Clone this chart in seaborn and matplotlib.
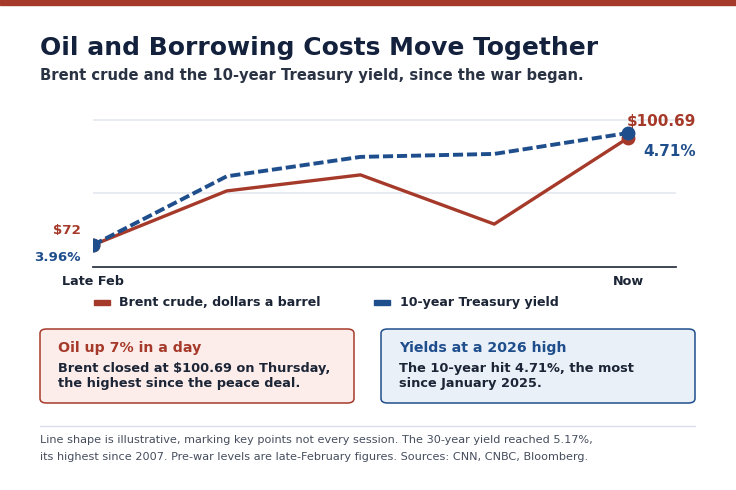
import numpy as np
import pandas as pd
import seaborn as sns
import matplotlib.pyplot as plt
from matplotlib.patches import FancyBboxPatch, Rectangle

# data (line shape is illustrative)
steps = [0, 1, 2, 3, 4]
tick_labels = ["Late Feb", "", "", "", "Now"]
brent = [72.0, 86.5, 90.8, 77.6, 100.69]
yield_10y = [3.96, 4.42, 4.55, 4.57, 4.71]

RED = "#a63a2a"
BLUE = "#1f4e8c"
NAVY = "#14213d"
TEXT = "#1c2536"

sns.set_theme(style="white")
plt.rcParams['font.family'] = ['DejaVu Sans']

df = pd.DataFrame({"step": steps, "brent": brent, "yield": yield_10y})

fig = plt.figure(figsize=(7.36, 4.90), dpi=100)
W, H = 736, 490

def fx(px):
    return px / W

def fy(py):
    return 1 - py / H

# top bar
fig.patches.append(Rectangle((0, fy(5)), 1, 5 / H, transform=fig.transFigure,
                             color=RED, zorder=5))

fig.text(fx(40), fy(48), "Oil and Borrowing Costs Move Together", fontsize=18,
         fontweight="bold", color=NAVY, va="center")
fig.text(fx(40), fy(75), "Brent crude and the 10-year Treasury yield, since the war began.",
         fontsize=10.6, fontweight="bold", color="#2a3344", va="center")

# chart area
ax = fig.add_axes([fx(93), fy(267), fx(676 - 93), (267 - 110) / H])
ax2 = ax.twinx()

sns.lineplot(data=df, x="step", y="brent", ax=ax, color=RED, linewidth=2.4)
sns.lineplot(data=df, x="step", y="yield", ax=ax2, color=BLUE, linewidth=2.8,
             linestyle=(0, (2.6, 1.0)))

ax.plot([steps[0], steps[-1]], [brent[0], brent[-1]], "o", color=RED, ms=9, zorder=4)
ax2.plot([steps[0], steps[-1]], [yield_10y[0], yield_10y[-1]], "o", color=BLUE, ms=9, zorder=4)

b_per_px = (brent[-1] - brent[0]) / (245 - 138)
y_per_px = (yield_10y[-1] - yield_10y[0]) / (245 - 133)
ax.set_ylim(brent[0] - 22 * b_per_px, brent[0] + 135 * b_per_px)
ax2.set_ylim(yield_10y[0] - 22 * y_per_px, yield_10y[0] + 135 * y_per_px)
ax.set_xlim(0, 4 * (676 - 93) / (628 - 93))

ax.set_yticks([brent[0] + 52 * b_per_px, brent[0] + 125 * b_per_px])
ax.yaxis.grid(True, color="#e4e7ee", linewidth=1.2)
ax.set_yticklabels([])
ax2.set_yticks([])
ax.tick_params(left=False, bottom=False, length=0)
ax.set_xticks([0, 4])
ax.set_xticklabels([tick_labels[0], tick_labels[-1]], fontsize=9.2, fontweight="bold", color=TEXT)
ax.tick_params(axis="x", pad=6)
ax.set_xlabel("")
ax.set_ylabel("")
ax2.set_ylabel("")
for s in ["left", "right", "top"]:
    ax.spines[s].set_visible(False)
for s in ax2.spines.values():
    s.set_visible(False)
ax.spines["bottom"].set_color("#2f3847")
ax.spines["bottom"].set_linewidth(1.3)

# end labels
ax.annotate("$72", (steps[0], brent[0]), xytext=(-9, 10.5), textcoords="offset points",
            ha="right", va="center", fontsize=9.6, fontweight="bold", color=RED, annotation_clip=False)
ax2.annotate("3.96%", (steps[0], yield_10y[0]), xytext=(-9, -9), textcoords="offset points",
             ha="right", va="center", fontsize=9.6, fontweight="bold", color=BLUE, annotation_clip=False)
ax.annotate("$100.69", (steps[-1], brent[-1]), xytext=(-1, 12), textcoords="offset points",
            ha="left", va="center", fontsize=11, fontweight="bold", color=RED, annotation_clip=False)
ax2.annotate("4.71%", (steps[-1], yield_10y[-1]), xytext=(11, -13), textcoords="offset points",
             ha="left", va="center", fontsize=11, fontweight="bold", color=BLUE, annotation_clip=False)

# legend
fig.patches.append(Rectangle((fx(94), fy(305)), 16 / W, 5 / H, transform=fig.transFigure, color=RED))
fig.text(fx(119), fy(302.5), "Brent crude, dollars a barrel", fontsize=9.1, fontweight="bold",
         color=TEXT, va="center")
fig.patches.append(Rectangle((fx(374), fy(305)), 16 / W, 5 / H, transform=fig.transFigure, color=BLUE))
fig.text(fx(400), fy(302.5), "10-year Treasury yield", fontsize=9.1, fontweight="bold",
         color=TEXT, va="center")

# callout boxes
boxes = [
    (40, "#fcedeb", RED, "Oil up 7% in a day",
     ["Brent closed at $100.69 on Thursday,", "the highest since the peace deal."]),
    (381, "#e9f0f8", BLUE, "Yields at a 2026 high",
     ["The 10-year hit 4.71%, the most", "since January 2025."]),
]
for x0, fill, edge, head, lines in boxes:
    fig.patches.append(FancyBboxPatch((fx(x0), fy(403)), 314 / W, 74 / H,
                                      boxstyle="round,pad=0,rounding_size=0.009",
                                      transform=fig.transFigure, facecolor=fill,
                                      edgecolor=edge, linewidth=1.1))
    fig.text(fx(x0 + 18), fy(348), head, fontsize=10.2, fontweight="bold", color=edge, va="center")
    for i, line in enumerate(lines):
        fig.text(fx(x0 + 18), fy(368 + 16 * i), line, fontsize=9.3, fontweight="bold",
                 color=TEXT, va="center")

# footer
fig.add_artist(plt.Line2D([fx(40), fx(695)], [fy(426), fy(426)], transform=fig.transFigure,
                          color="#d9dee8", linewidth=1))
fig.text(fx(40), fy(440), "Line shape is illustrative, marking key points not every session. "
         "The 30-year yield reached 5.17%,", fontsize=8.1, color="#454d5d", va="center")
fig.text(fx(40), fy(457), "its highest since 2007. Pre-war levels are late-February figures. "
         "Sources: CNN, CNBC, Bloomberg.", fontsize=8.1, color="#454d5d", va="center")

fig.savefig("out.png", dpi=100)
